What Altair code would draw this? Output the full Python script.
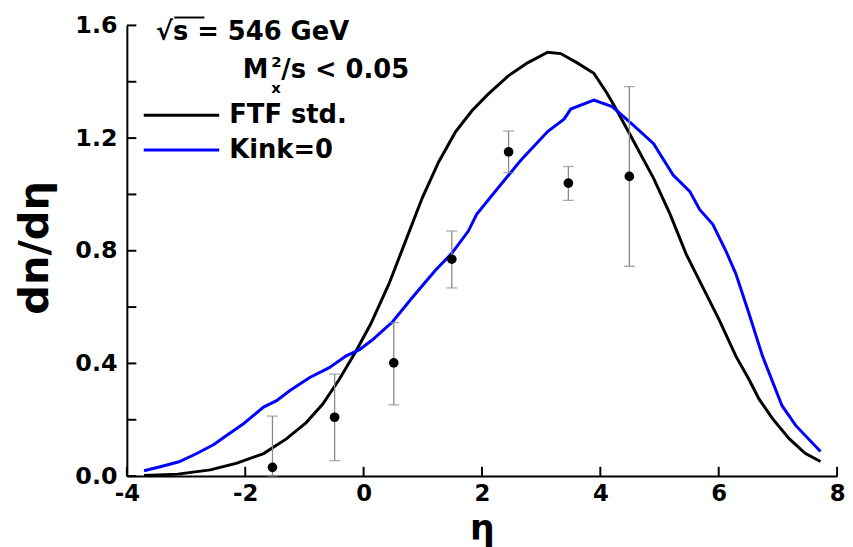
import altair as alt
import pandas as pd

# ---- data ----
ftf_x = [-3.71, -3.14, -2.59, -2.14, -1.69, -1.30, -0.97, -0.69, -0.41, -0.13, 0.12, 0.43, 0.71, 0.99,
         1.27, 1.55, 1.83, 2.10, 2.44, 2.77, 3.11, 3.33, 3.61, 3.89, 4.11, 4.23, 4.51, 4.90, 5.18,
         5.45, 5.73, 6.01, 6.29, 6.51, 6.68, 6.91, 7.19, 7.46, 7.72]
ftf_y = [0.002, 0.007, 0.022, 0.046, 0.080, 0.133, 0.190, 0.256, 0.344, 0.443, 0.540, 0.683, 0.835, 0.987,
         1.116, 1.221, 1.297, 1.355, 1.420, 1.467, 1.505, 1.500, 1.467, 1.430, 1.360, 1.317, 1.209, 1.057, 0.929,
         0.788, 0.671, 0.554, 0.426, 0.344, 0.274, 0.204, 0.133, 0.081, 0.052]

kink_x = [-3.71, -3.42, -3.12, -2.81, -2.53, -2.31, -2.03, -1.69, -1.47, -1.25, -0.91, -0.58, -0.30, -0.07,
          0.15, 0.37, 0.49, 0.82, 1.21, 1.49, 1.77, 1.91, 2.24, 2.66, 3.11, 3.39, 3.50, 3.89, 4.20, 4.56,
          4.90, 5.23, 5.51, 5.68, 5.90, 6.12, 6.29, 6.51, 6.74, 7.07, 7.30, 7.72]
kink_y = [0.019, 0.034, 0.051, 0.081, 0.112, 0.145, 0.186, 0.245, 0.268, 0.303, 0.350, 0.385, 0.426, 0.449,
          0.484, 0.525, 0.548, 0.633, 0.730, 0.791, 0.870, 0.929, 1.015, 1.122, 1.223, 1.268, 1.303, 1.335, 1.312, 1.245,
          1.180, 1.069, 1.011, 0.946, 0.894, 0.800, 0.718, 0.578, 0.426, 0.250, 0.180, 0.087]

data_x = [-1.54, -0.49, 0.51, 1.49, 2.45, 3.46, 4.49]
data_y = [0.031, 0.209, 0.402, 0.770, 1.151, 1.040, 1.064]
data_lo = [0.000, 0.055, 0.253, 0.668, 1.077, 0.979, 0.745]
data_hi = [0.213, 0.362, 0.545, 0.870, 1.225, 1.099, 1.383]

series_names = ["FTF std.", "Kink=0"]
series_colors = ["#000000", "#0000ff"]

x_tick_values = [-4, -2, 0, 2, 4, 6, 8]
y_label_values = [0.0, 0.4, 0.8, 1.2, 1.6]
y_tick_values = [0.0, 0.2, 0.4, 0.6, 0.8, 1.0, 1.2, 1.4, 1.6]

# ---- tables ----
lines_df = pd.DataFrame(
    [{"eta": x, "dn": y, "series": series_names[0]} for x, y in zip(ftf_x, ftf_y)]
    + [{"eta": x, "dn": y, "series": series_names[1]} for x, y in zip(kink_x, kink_y)]
)
pts_df = pd.DataFrame({"eta": data_x, "dn": data_y, "lo": data_lo, "hi": data_hi})

ytick_df = pd.DataFrame({"t": y_tick_values, "a": [-4.0] * len(y_tick_values),
                         "b": [-3.84] * len(y_tick_values)})
xtick_df = pd.DataFrame({"t": x_tick_values, "a": [0.0] * len(x_tick_values),
                         "b": [0.033] * len(x_tick_values)})

legend_df = pd.DataFrame({"series": series_names, "x0": [-3.715, -3.715], "x1": [-2.44, -2.44],
                          "y": [1.281, 1.158]})
legend_txt_df = pd.DataFrame({"label": series_names, "x": [-2.27, -2.27], "y": [1.281, 1.158]})

ann_df = pd.DataFrame({
    "label": ["√s = 546 GeV", "M", "2", "x", "/s < 0.05"],
    "x": [-3.51, -2.04, -1.56, -1.56, -1.39],
    "y": [1.547, 1.414, 1.452, 1.360, 1.414],
    "size": [26, 26, 15, 15, 26],
})
overline_df = pd.DataFrame({"x0": [-3.20], "x1": [-2.69], "y": [1.628]})

FONT = "DejaVu Sans"
xscale = alt.Scale(domain=[-4, 8], nice=False, zero=False)
yscale = alt.Scale(domain=[0, 1.6], nice=False, zero=False)

xaxis = alt.Axis(values=x_tick_values, title="η", ticks=False, tickSize=0, grid=False,
                 domainWidth=2, domainColor="black", labelFont=FONT, labelFontWeight="bold",
                 labelFontSize=23, labelColor="black", labelPadding=7, labelFlush=False,
                 labelExpr="'' + datum.value",
                 titleFont=FONT, titleFontSize=35, titleFontWeight="bold", titleColor="black",
                 titleY=64, titleBaseline="alphabetic")
yaxis = alt.Axis(values=y_label_values, format=".1f", title="dn/dη", ticks=False, tickSize=0,
                 grid=False, domainWidth=2, domainColor="black", labelFont=FONT,
                 labelFontWeight="bold", labelFontSize=24, labelColor="black", labelPadding=10,
                 labelFlush=False, titleFont=FONT, titleFontSize=42, titleFontWeight="bold",
                 titleColor="black", titleAngle=270, titleX=-80, titleY=224,
                 titleAlign="center", titleBaseline="alphabetic")

X = lambda f: alt.X(f, type="quantitative", scale=xscale, axis=xaxis)
Y = lambda f: alt.Y(f, type="quantitative", scale=yscale, axis=yaxis)
color = alt.Color("series:N", scale=alt.Scale(domain=series_names, range=series_colors), legend=None)

lines = alt.Chart(lines_df).mark_line(strokeWidth=3).encode(
    x=X("eta"), y=Y("dn"), color=color, detail="series:N")

err = alt.Chart(pts_df).mark_rule(color="#888888", strokeWidth=1.3).encode(
    x=X("eta"), y=Y("lo"), y2="hi:Q")
cap_lo = alt.Chart(pts_df).mark_tick(orient="horizontal", size=11, thickness=1.3, color="#888888").encode(
    x=X("eta"), y=Y("lo"))
cap_hi = alt.Chart(pts_df).mark_tick(orient="horizontal", size=11, thickness=1.3, color="#888888").encode(
    x=X("eta"), y=Y("hi"))
pts = alt.Chart(pts_df).mark_point(filled=True, shape="circle", size=95, color="black", opacity=1).encode(
    x=X("eta"), y=Y("dn"))

yticks = alt.Chart(ytick_df).mark_rule(color="black", strokeWidth=2).encode(
    x=X("a"), x2="b:Q", y=Y("t"))
xticks = alt.Chart(xtick_df).mark_rule(color="black", strokeWidth=2).encode(
    x=X("t"), y=Y("a"), y2="b:Q")

leg_lines = alt.Chart(legend_df).mark_rule(strokeWidth=3).encode(
    x=X("x0"), x2="x1:Q", y=Y("y"), color=color)
leg_text = alt.Chart(legend_txt_df).mark_text(
    align="left", baseline="middle", font=FONT, fontWeight="bold", fontSize=26, color="black").encode(
    x=X("x"), y=Y("y"), text="label:N")

ann = alt.Chart(ann_df).mark_text(
    align="left", baseline="alphabetic", font=FONT, fontWeight="bold", color="black").encode(
    x=X("x"), y=Y("y"), text="label:N", size=alt.Size("size:Q", scale=None))
overline = alt.Chart(overline_df).mark_rule(color="black", strokeWidth=2).encode(
    x=X("x0"), x2="x1:Q", y=Y("y"))

chart = alt.layer(lines, err, cap_lo, cap_hi, pts, yticks, xticks, leg_lines, leg_text, ann, overline).properties(
    width=717, height=455,
    padding={"left": 120, "top": 15, "right": 8, "bottom": 69},
    autosize=alt.AutoSizeParams(type="none"),
    background="white",
).configure_view(stroke=None)

chart.save("out.html", embed_options={"renderer": "svg", "actions": False})
